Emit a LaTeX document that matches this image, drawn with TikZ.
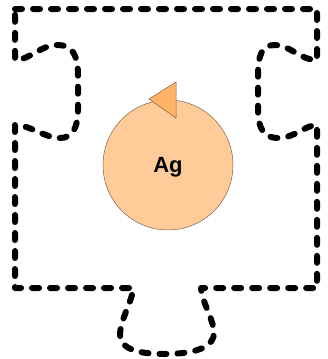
\documentclass[tikz,border=0pt]{standalone}
\usepackage{fontspec}
\setmainfont{Liberation Sans}
\definecolor{peach}{HTML}{FFCC99}
\definecolor{peachdark}{HTML}{FFB366}
\definecolor{edgegray}{HTML}{806040}
\begin{document}
\begin{tikzpicture}[x=1pt,y=-1pt,
  outline/.style={line width=6pt, line cap=round, line join=round, dash pattern=on 7pt off 11pt},
  antigen/.style={circle, draw=edgegray, line width=0.5pt, fill=peach, minimum size=130pt, inner sep=0pt},
  label/.style={font=\bfseries\fontsize{22}{24}\selectfont},
  tip/.style={draw=edgegray, line width=0.5pt, fill=peachdark}]
\useasboundingbox (0,0) rectangle (328,359);
\draw[outline] (15,9) -- (317,9) -- (317,60)
  .. controls (300,60) and (290,45) .. (275,45)
  .. controls (262,45) and (258,55) .. (258,75) -- (258,110)
  .. controls (258,130) and (265,138) .. (278,138)
  .. controls (295,138) and (305,125) .. (317,125) -- (317,288) -- (201,288)
  .. controls (201,300) and (214,320) .. (214,333)
  .. controls (214,345) and (200,354) .. (164,354)
  .. controls (130,354) and (120,345) .. (120,335)
  .. controls (120,320) and (133,300) .. (133,288) -- (15,288) -- (15,125)
  .. controls (30,125) and (45,138) .. (60,138)
  .. controls (72,138) and (78,128) .. (78,110) -- (78,75)
  .. controls (78,55) and (72,45) .. (58,45)
  .. controls (40,45) and (30,60) .. (15,60) -- cycle;
\node[antigen] (ag) at (168,165) {};
\node[label] (agtext) at (168,167) {Ag};
\draw[tip] (176,82) -- (149,99) -- (176,118) -- cycle;
\end{tikzpicture}
\end{document}
